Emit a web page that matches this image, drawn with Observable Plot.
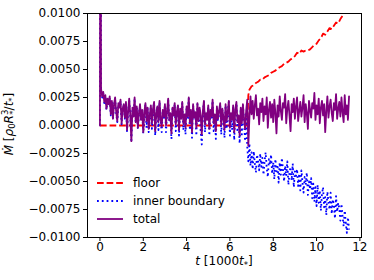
<!DOCTYPE html>
<html>
<head>
<meta charset="utf-8">
<script src="https://cdn.jsdelivr.net/npm/d3@7"></script>
<script src="https://cdn.jsdelivr.net/npm/@observablehq/plot@0.6"></script>
<style>
  html, body { margin: 0; padding: 0; background: white; }
  #chart { width: 374px; height: 280px; }
</style>
</head>
<body>
<div id="chart"></div>
<script>
// Values, in units of 1e-3 of M-dot.
const yUnit = 1e-3;
const dt = 0.05;              // sampling step of the regular series, in 1000 t*
const headT = [0, 0.02];
const totalHead = [0, 30];
const innerHead = [0, 30];
// total, t = 0.05 .. 11.5 (20 values per unit of t)
const totalVals = [
  3.3, 2.6, 3.0, 2.1, 2.7, 1.5, 2.4, 1.9, 2.6, 1.0, 2.2, 0.6, 1.9, 2.5, 1.2, 0.4, 2.0, 1.6, 2.3, 0.2,
  1.5, 1.9, 0.7, 2.1, -0.4, 1.3, 2.4, 0.9, -1.4, 1.6, 0.8, 2.5, 0.3, 1.7, -0.2, 1.1, 1.9, 0.5, 1.4, -0.6,
  1.2, 2.0, 0.4, 1.6, -0.3, 0.9, 1.8, 0.2, 1.5, 2.1, -0.5, 1.0, 1.7, 0.3, 2.2, 0.6, -0.1, 1.4, 0.8, 1.9,
  0.0, 1.3, 2.4, 0.5, 1.1, -0.7, 1.6, 0.9, 2.0, 0.1, 1.2, 1.8, -0.4, 1.5, 0.6, 2.1, 0.2, 1.0, -0.2, 1.7,
  0.8, 2.5, 0.3, 1.4, -0.6, 1.9, 0.7, 1.2, -0.2, 2.0, 0.4, 1.6, 0.9, -0.8, 1.3, 2.2, 0.1, 1.1, 0.5, 1.8,
  -0.3, 1.4, 0.8, 2.3, 0.2, 1.0, -0.5, 1.7, 0.6, 1.3, 2.0, 0.0, 1.5, 0.7, -0.4, 1.9, 0.4, 1.2, 2.2, -0.2,
  1.1, 0.5, 1.8, -0.6, 1.4, 2.1, 0.3, 0.9, -0.9, 1.6, 0.2, 1.9, 0.6, -0.3, 1.3, 2.3, -1.8, 0.7, 2.6, 1.0,
  2.2, 0.6, 1.8, 2.7, 0.9, 1.5, 0.1, 2.0, 1.2, 2.4, 0.4, 1.7, 1.0, 2.5, -0.2, 1.4, 2.1, 0.7, 1.9, 0.3,
  2.3, 1.1, -0.7, 1.8, 0.8, 2.6, 1.3, 0.5, 2.0, 1.6, 2.8, 0.2, 1.5, 2.2, 0.9, -0.5, 1.9, 1.2, 2.4, 0.6,
  1.7, 2.5, 0.4, 1.3, 2.1, 0.8, 1.6, 2.7, 0.3, 1.9, 1.1, -0.3, 2.2, 1.4, 0.7, 2.0, 1.5, 2.9, 0.5, 1.8,
  1.0, 2.4, 0.2, 1.6, 2.2, 0.9, 1.9, -0.6, 1.3, 2.6, 0.7, 1.7, 2.3, 1.1, 0.4, 2.0, 1.4, 2.8, 0.6, 1.5,
  2.1, 0.8, 2.5, 1.2, 0.3, 2.7, 1.0, 1.8, 0.5, 2.6
];
// inner boundary, t = 0.05 .. 11.5
const innerVals = [
  3.2, 2.5, 2.9, 2.0, 2.6, 1.4, 2.3, 1.8, 2.5, 0.9, 2.1, 0.5, 1.8, 2.4, 1.1, 0.3, 1.9, 1.5, 2.2, 0.1,
  1.4, 1.8, 0.6, 2.0, -0.5, 1.2, 2.3, 0.8, -1.5, 1.5, 0.7, 2.4, 0.2, 1.6, -0.3, 1.0, 1.8, 0.4, 1.3, -0.7,
  1.1, 1.9, -0.2, 1.5, -0.6, 0.8, 1.7, -0.3, 1.4, 2.0, -0.9, 0.9, 1.6, -0.4, 2.1, 0.5, -0.6, 1.3, 0.7, 1.8,
  -0.6, 1.2, 2.3, 0.4, 1.0, -1.2, 1.5, 0.8, 1.9, -0.5, 1.1, 1.7, -0.9, 1.4, 0.5, 2.0, -0.4, 0.9, -0.8, 1.6,
  0.6, 2.4, -0.4, 1.3, -1.1, 1.8, 0.6, 1.1, -0.9, 1.9, 0.3, 1.5, -0.5, -1.7, 1.2, 2.1, -0.6, 1.0, 0.4, 1.7,
  -0.9, 1.3, 0.7, 2.2, -0.5, 0.9, -1.2, 1.6, 0.5, 1.2, 1.9, -0.8, 1.4, 0.6, -1.1, 1.8, -0.3, 1.1, 2.1, -0.9,
  1.0, -0.4, 1.7, -1.3, 1.3, 2.0, -0.6, 0.8, -1.6, 1.5, -0.8, 1.8, 0.5, -1.4, 1.2, -1.9, -3.2, -1.6, -3.6, -2.4,
  -3.9, -2.3, -3.4, -4.2, -2.6, -3.1, -4.0, -2.5, -3.7, -2.9, -4.4, -3.2, -2.4, -3.8, -4.6, -3.0, -3.5, -2.6, -4.3, -3.3,
  -4.8, -3.0, -4.1, -3.5, -5.1, -3.3, -4.4, -2.9, -4.0, -5.0, -3.6, -4.5, -3.2, -5.3, -4.2, -3.7, -4.9, -3.4, -5.5, -4.1,
  -4.5, -3.9, -5.4, -4.3, -5.8, -4.0, -5.1, -6.0, -4.6, -5.3, -4.2, -6.2, -5.0, -5.7, -4.7, -6.5, -5.2, -6.8, -5.5, -7.2,
  -5.3, -6.9, -5.8, -7.6, -6.1, -5.5, -7.3, -6.4, -8.0, -5.9, -6.8, -7.5, -6.0, -7.9, -6.6, -7.1, -8.3, -6.3, -7.7, -6.9,
  -7.4, -8.5, -7.0, -8.1, -9.0, -7.6, -8.7, -9.6, -8.2, -9.3
];
// floor
const floorT = [0, 6.8, 6.85, 6.9, 7.0, 7.1, 7.2, 7.3, 7.4, 7.5, 7.6, 7.7, 7.8, 7.9, 8.0,
  8.1, 8.2, 8.3, 8.4, 8.5, 8.6, 8.7, 8.8, 8.9, 9.0, 9.1, 9.2, 9.3, 9.4, 9.5, 9.6, 9.7, 9.8, 9.9, 10.0,
  10.1, 10.2, 10.3, 10.4, 10.5, 10.6, 10.7, 10.8, 10.9, 11.0, 11.1, 11.2, 11.3, 11.4, 11.5];
const floorVals = [0, 0, 2.7, 3.2, 3.5, 3.6, 3.8, 3.9, 4.1, 4.1, 4.3, 4.4, 4.5, 4.7, 4.8,
  4.9, 5.1, 5.2, 5.3, 5.5, 5.6, 5.7, 5.9, 6.0, 6.2, 6.5, 6.4, 6.7, 6.6, 6.7, 6.7, 6.8, 7.0, 7.2, 7.3,
  7.6, 7.8, 8.2, 8.1, 8.4, 8.7, 8.6, 8.9, 9.2, 9.1, 9.5, 9.8, 10.1, 10.3, 10.6];

const xTicks = [0, 2, 4, 6, 8, 10, 12];
const yTicks = [-0.01, -0.0075, -0.005, -0.0025, 0, 0.0025, 0.005, 0.0075, 0.01];
const seriesNames = ["floor", "inner boundary", "total"];
const seriesColors = ["red", "blue", "purple"];

function buildSeries(head, vals) {
  const rows = head.map((v, i) => ({t: headT[i], v: v * yUnit}));
  vals.forEach((v, i) => rows.push({t: +((i + 1) * dt).toFixed(3), v: v * yUnit}));
  return rows;
}
const totalData = buildSeries(totalHead, totalVals);
const innerData = buildSeries(innerHead, innerVals);
const floorData = floorT.map((t, i) => ({t, v: floorVals[i] * yUnit}));

const fmt = d3.format(".4f");
const LW = 1.8;
const dashes = ["6.7,2.9", "1.8,3", null];

const chart = Plot.plot({
  width: 374,
  height: 280,
  marginLeft: 87,
  marginRight: 13,
  marginTop: 13,
  marginBottom: 43,
  x: {domain: [-0.575, 12.075]},
  y: {domain: [-0.01, 0.01]},
  style: {fontFamily: "DejaVu Sans", fontSize: "12px", background: "white", color: "black", overflow: "visible"},
  marks: [
    Plot.line(floorData, {x: "t", y: "v", stroke: seriesColors[0], strokeWidth: LW, strokeDasharray: dashes[0], strokeLinecap: "butt", clip: true}),
    Plot.line(innerData, {x: "t", y: "v", stroke: seriesColors[1], strokeWidth: LW, strokeDasharray: dashes[1], strokeLinecap: "butt", clip: true}),
    Plot.line(totalData, {x: "t", y: "v", stroke: seriesColors[2], strokeWidth: LW, clip: true}),
    Plot.frame({stroke: "black", strokeWidth: 1}),
    Plot.axisX({ticks: xTicks, tickSize: 4, tickPadding: 1, label: null, fontSize: 12}),
    Plot.axisY({ticks: yTicks, tickSize: 4, tickPadding: 3, tickFormat: fmt, label: null, fontSize: 12})
  ]
});
document.getElementById("chart").appendChild(chart);

const svg = d3.select(chart);
// y label
const yl = svg.append("text")
  .attr("transform", "translate(9,124) rotate(-90)")
  .attr("text-anchor", "middle")
  .attr("dominant-baseline", "middle")
  .attr("font-family", "DejaVu Sans")
  .attr("font-size", 12)
  .attr("fill", "black");
yl.append("tspan").attr("font-style", "italic").text("Ṁ");
yl.append("tspan").text(" [");
yl.append("tspan").attr("font-style", "italic").text("ρ");
yl.append("tspan").attr("font-size", 8.5).attr("dy", 3).text("0");
yl.append("tspan").attr("font-style", "italic").attr("dy", -3).text("R");
yl.append("tspan").attr("font-size", 8.5).attr("dy", -4.5).text("3");
yl.append("tspan").attr("font-size", 8.5).attr("dx", -5).attr("dy", 8).text("*");
yl.append("tspan").attr("dy", -3.5).text("/");
yl.append("tspan").attr("font-style", "italic").text("t");
yl.append("tspan").attr("font-size", 8.5).attr("dy", 3).text("*");
yl.append("tspan").attr("dy", -3).text("]");

// x label
const xl = svg.append("text")
  .attr("x", 224).attr("y", 265)
  .attr("text-anchor", "middle")
  .attr("font-family", "DejaVu Sans")
  .attr("font-size", 12)
  .attr("fill", "black");
xl.append("tspan").attr("font-style", "italic").text("t");
xl.append("tspan").text(" [1000");
xl.append("tspan").attr("font-style", "italic").text("t");
xl.append("tspan").attr("font-size", 8.5).attr("dy", 3).text("*");
xl.append("tspan").attr("dy", -3).text("]");

// legend
const lg = svg.append("g").attr("font-family", "DejaVu Sans").attr("font-size", 12).attr("text-anchor", "start");
seriesNames.forEach((name, i) => {
  const yy = 183 + i * 18;
  const ln = lg.append("line").attr("x1", 97).attr("x2", 123).attr("y1", yy).attr("y2", yy)
    .attr("stroke", seriesColors[i]).attr("stroke-width", LW);
  if (dashes[i]) ln.attr("stroke-dasharray", dashes[i]);
  lg.append("text").attr("x", 133).attr("y", yy).attr("dominant-baseline", "middle")
    .attr("text-anchor", "start").attr("fill", "black").text(name);
});
</script>
</body>
</html>
